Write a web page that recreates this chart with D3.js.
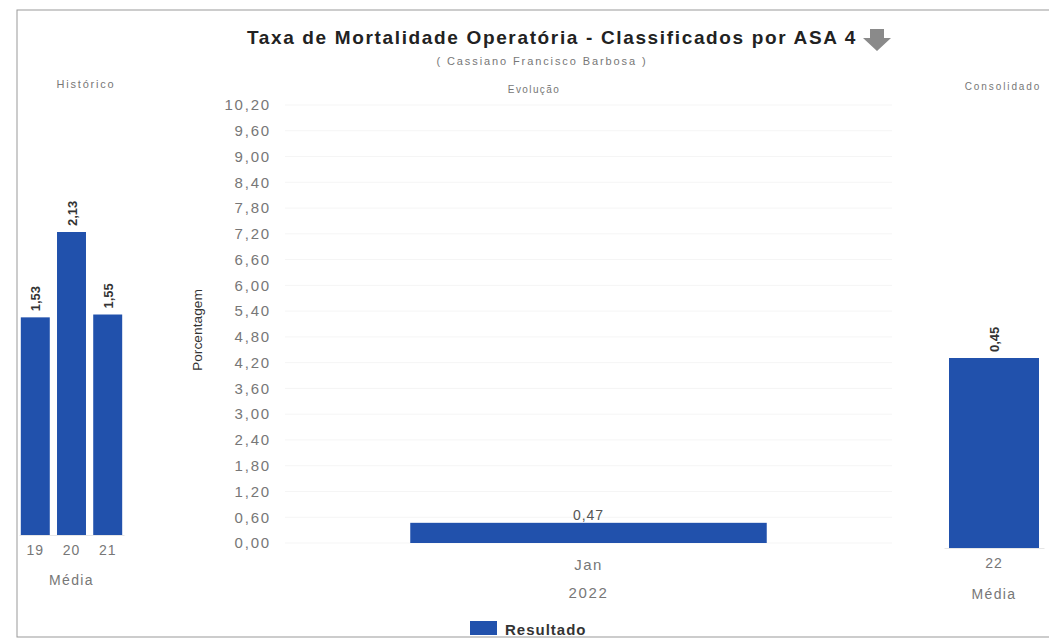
<!DOCTYPE html>
<html>
<head>
<meta charset="utf-8">
<script src="https://cdn.jsdelivr.net/npm/d3@7"></script>
<style>
  body { margin: 0; background: #fff; }
  svg { display: block; font-family: "Liberation Sans", Arial, sans-serif; }
</style>
</head>
<body>
<svg width="1049" height="644"></svg>
<script>
// chart data
const histCategories = ["19", "20", "21"];
const histValues = [1.53, 2.13, 1.55];
const evoCategories = ["Jan"];
const evoValues = [0.47];
const evoYear = "2022";
const consCategories = ["22"];
const consValues = [0.45];
const yTicks = [0, 0.6, 1.2, 1.8, 2.4, 3.0, 3.6, 4.2, 4.8, 5.4, 6.0, 6.6, 7.2, 7.8, 8.4, 9.0, 9.6, 10.2];

const barColor = "#2151ac";
const fmt = v => d3.format(".2f")(v).replace(".", ",");

const svg = d3.select("svg");

// small helper for the grey labels
function label(g, x, y, txt, size, spacing) {
    return g.append("text")
        .attr("x", x).attr("y", y)
        .attr("text-anchor", "middle")
        .attr("font-size", size)
        .attr("letter-spacing", spacing)
        .attr("fill", "#777")
        .text(txt);
}

// outer frame
svg.append("rect")
    .attr("x", 17).attr("y", 10)
    .attr("width", 1040).attr("height", 627)
    .attr("fill", "none")
    .attr("stroke", "#999")
    .attr("stroke-width", 1);

// title + arrow
svg.append("text")
    .attr("x", 552).attr("y", 44)
    .attr("text-anchor", "middle")
    .attr("font-size", 19)
    .attr("font-weight", "bold")
    .attr("letter-spacing", 1.65)
    .attr("fill", "#222")
    .text("Taxa de Mortalidade Operatória - Classificados por ASA 4");

svg.append("path")
    .attr("d", "M870,29 L884,29 L884,38 L891,38 L877,51 L863,38 L870,38 Z")
    .attr("fill", "#8a8a8a");

label(svg, 542, 65, "( Cassiano Francisco Barbosa )", 11, 1.9);

// panel headings
label(svg, 86, 88, "Histórico", 11, 1.8);
label(svg, 534, 93, "Evolução", 10, 1.4);
label(svg, 1003, 90, "Consolidado", 10, 1.9);

// draws one small column panel (Histórico / Consolidado)
function columnPanel(cats, vals, xRange, bottom, topPx, pad, catY) {
    const x = d3.scaleBand().domain(cats).range(xRange).paddingInner(pad).paddingOuter(pad / 4);
    const y = d3.scaleLinear().domain([0, d3.max(vals)]).range([bottom, topPx]);
    const g = svg.append("g");

    g.selectAll("rect")
        .data(vals)
        .join("rect")
        .attr("x", (d, i) => x(cats[i]))
        .attr("y", d => y(d))
        .attr("width", x.bandwidth())
        .attr("height", d => bottom - y(d))
        .attr("fill", barColor);

    g.selectAll("text.val")
        .data(vals)
        .join("text")
        .attr("class", "val")
        .attr("transform", (d, i) => `translate(${x(cats[i]) + x.bandwidth() / 2 + 5},${y(d) - 6}) rotate(-90)`)
        .attr("font-size", 13)
        .attr("font-weight", "bold")
        .attr("fill", "#333")
        .text(d => fmt(d));

    const axis = g.append("g")
        .attr("transform", `translate(0,${bottom})`)
        .call(d3.axisBottom(x).tickSize(0).tickPadding(10));
    axis.select(".domain").attr("stroke", "#e6e6e6");
    axis.selectAll("text").attr("font-size", 14).attr("fill", "#777")
        .attr("letter-spacing", 1)
        .attr("font-family", "Liberation Sans, Arial, sans-serif");

    label(g, (xRange[0] + xRange[1]) / 2, catY, "Média", 14, 1.4);
}

columnPanel(histCategories, histValues, [19, 124], 535, 232, 0.2, 585);
columnPanel(consCategories, consValues, [944, 1044], 548, 358, 0.1, 599);

// middle panel (Evolução)
const yEvo = d3.scaleLinear().domain([0, 10.2]).range([543, 105]);
const xEvo = d3.scaleBand().domain(evoCategories).range([285, 892]).padding(0.26);
const mid = svg.append("g");

mid.append("g")
    .selectAll("line")
    .data(yTicks)
    .join("line")
    .attr("x1", 285).attr("x2", 892)
    .attr("y1", d => yEvo(d)).attr("y2", d => yEvo(d))
    .attr("stroke", "#f5f5f5");

const yAxis = mid.append("g")
    .attr("transform", "translate(285,0)")
    .call(d3.axisLeft(yEvo).tickValues(yTicks).tickFormat(fmt).tickSize(0).tickPadding(14));
yAxis.select(".domain").remove();
yAxis.selectAll("text").attr("font-size", 15).attr("fill", "#777")
    .attr("letter-spacing", 1.8)
    .attr("font-family", "Liberation Sans, Arial, sans-serif");

mid.append("text")
    .attr("transform", "translate(202,330) rotate(-90)")
    .attr("text-anchor", "middle")
    .attr("font-size", 13)
    .attr("fill", "#333")
    .attr("textLength", 82)
    .attr("lengthAdjust", "spacingAndGlyphs")
    .text("Porcentagem");

mid.selectAll("rect.bar")
    .data(evoValues)
    .join("rect")
    .attr("class", "bar")
    .attr("x", (d, i) => xEvo(evoCategories[i]))
    .attr("y", d => yEvo(d))
    .attr("width", xEvo.bandwidth())
    .attr("height", d => yEvo(0) - yEvo(d))
    .attr("fill", barColor);

mid.selectAll("text.val")
    .data(evoValues)
    .join("text")
    .attr("class", "val")
    .attr("x", (d, i) => xEvo(evoCategories[i]) + xEvo.bandwidth() / 2)
    .attr("y", d => yEvo(d) - 3)
    .attr("text-anchor", "middle")
    .attr("font-size", 14)
    .attr("letter-spacing", 1)
    .attr("fill", "#555")
    .text(d => fmt(d));

const xAxis = mid.append("g")
    .attr("transform", `translate(0,${yEvo(0)})`)
    .call(d3.axisBottom(xEvo).tickSize(0).tickPadding(16));
xAxis.select(".domain").remove();
xAxis.selectAll("text").attr("font-size", 15).attr("fill", "#777")
    .attr("letter-spacing", 1.4)
    .attr("font-family", "Liberation Sans, Arial, sans-serif");

label(mid, xEvo("Jan") + xEvo.bandwidth() / 2, 598, evoYear, 15, 1.6);

// legend
svg.append("rect")
    .attr("x", 470).attr("y", 621)
    .attr("width", 27).attr("height", 14)
    .attr("fill", barColor);
svg.append("text")
    .attr("x", 505).attr("y", 635)
    .attr("font-size", 15)
    .attr("font-weight", "bold")
    .attr("letter-spacing", 1)
    .attr("fill", "#333")
    .text("Resultado");
</script>
</body>
</html>
